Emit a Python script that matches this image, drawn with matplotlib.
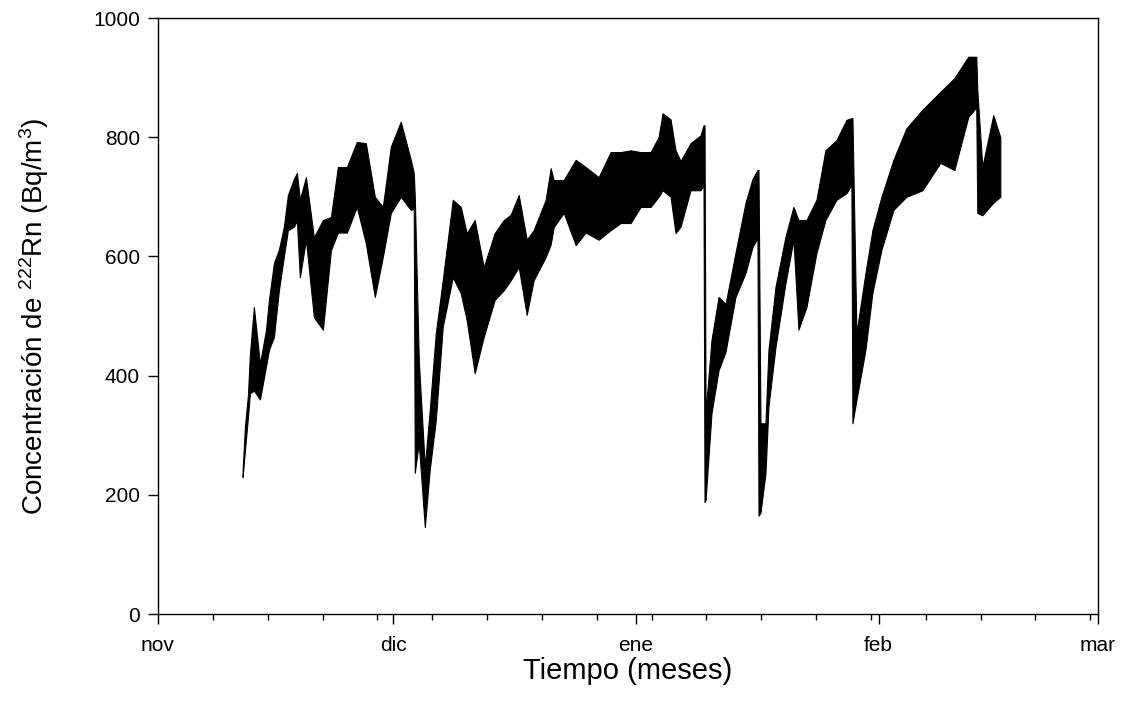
import matplotlib
matplotlib.use("Agg")
import matplotlib.pyplot as plt
from matplotlib.ticker import FixedLocator

plt.rcParams['font.family'] = ['Liberation Sans', 'DejaVu Sans']
plt.rcParams['mathtext.fontset'] = 'custom'
plt.rcParams['mathtext.rm'] = 'Liberation Sans'
plt.rcParams['mathtext.it'] = 'Liberation Sans'

# days counted from 1 nov; envelope (low / high) of the hourly radon record
days = [10.80, 11.10, 11.48, 11.73, 12.24, 13.01, 13.78, 14.16, 14.80, 15.43,
        16.07, 16.58, 17.35, 17.73, 18.11, 18.88, 19.90, 21.05, 22.07, 22.96,
        24.11, 25.38, 26.53, 27.68, 28.70, 29.72, 30.99, 32.27, 32.65, 32.78,
        33.29, 34.06, 34.69, 35.46, 36.35, 37.63, 38.65, 39.41, 40.43, 41.58,
        42.98, 44.13, 45.03, 46.05, 47.07, 47.96, 49.49, 50.13, 50.51, 51.79,
        53.32, 54.59, 56.25, 57.78, 59.06, 60.33, 61.61, 62.88, 63.90, 64.41,
        65.43, 66.07, 66.71, 67.98, 69.26, 69.64, 69.77, 69.90, 70.66, 71.56,
        72.45, 73.72, 75.00, 75.89, 76.53, 76.66, 76.91, 77.55, 77.93, 78.83,
        80.10, 81.12, 81.76, 82.78, 84.06, 85.20, 86.61, 87.88, 88.52, 88.65,
        89.16, 90.31, 91.20, 92.35, 93.88, 95.54, 97.58, 99.87, 101.66, 103.44,
        104.46, 104.59, 105.23, 106.63, 107.53]
rn_low = [230, 275, 330, 370, 375, 360, 415, 443, 465, 543,
          600, 644, 650, 660, 565, 628, 498, 477, 610, 640,
          640, 683, 622, 532, 599, 673, 700, 678, 680, 237,
          287, 146, 242, 325, 482, 565, 538, 493, 404, 465,
          527, 543, 560, 582, 502, 560, 599, 620, 649, 673,
          619, 640, 628, 644, 656, 656, 683, 683, 700, 711,
          700, 639, 650, 711, 711, 720, 188, 191, 337, 409,
          440, 532, 572, 616, 630, 165, 170, 236, 348, 448,
          555, 628, 477, 515, 606, 661, 695, 706, 720, 320,
          359, 443, 539, 611, 678, 700, 711, 757, 745, 834,
          850, 673, 669, 690, 700]
rn_high = [240, 315, 367, 435, 515, 420, 476, 527, 589, 611,
           650, 703, 730, 740, 695, 733, 632, 661, 666, 750,
           750, 792, 790, 700, 683, 784, 826, 762, 740, 700,
           426, 247, 342, 471, 560, 695, 683, 639, 661, 582,
           639, 661, 670, 703, 628, 644, 695, 748, 728, 728,
           762, 750, 733, 775, 775, 778, 775, 775, 800, 840,
           830, 778, 760, 790, 803, 820, 820, 337, 460, 532,
           520, 606, 690, 730, 745, 745, 320, 320, 443, 549,
           633, 683, 661, 661, 695, 778, 795, 829, 832, 832,
           471, 572, 644, 700, 762, 815, 846, 876, 899, 935,
           935, 880, 750, 837, 800]

month_days = [0, 30, 61, 92, 120]
month_labels = ['nov', 'dic', 'ene', 'feb', 'mar']
week_days = [7, 14, 21, 28, 35, 42, 49, 56, 63, 70, 77, 84, 91, 98, 105, 112, 119]

fig = plt.figure(figsize=(11.21, 7.13), dpi=100)
ax = fig.add_axes([158 / 1121, 1 - 614 / 713, 940 / 1121, 596 / 713])

ax.fill_between(days, rn_low, rn_high, color='black', linewidth=0.8)

ax.set_xlim(0, 120)
ax.set_ylim(0, 1000)
ax.set_xticks(month_days)
ax.set_xticklabels(month_labels)
ax.xaxis.set_minor_locator(FixedLocator(week_days))
ax.set_yticks([0, 200, 400, 600, 800, 1000])

ax.tick_params(which='major', direction='out', length=7, width=1, labelsize=15)
ax.tick_params(axis='x', which='major', pad=9)
ax.tick_params(axis='y', which='major', pad=6)
ax.tick_params(which='minor', direction='out', length=4, width=1)
ax.tick_params(axis='y', which='minor', left=False)
for s in ax.spines.values():
    s.set_linewidth(1)

ax.set_xlabel('Tiempo (meses)', fontsize=21, labelpad=1)
ax.set_ylabel(r'Concentración de $^{222}$Rn (Bq/m$^3$)', fontsize=20, labelpad=30)

fig.savefig('out.png', dpi=100)
